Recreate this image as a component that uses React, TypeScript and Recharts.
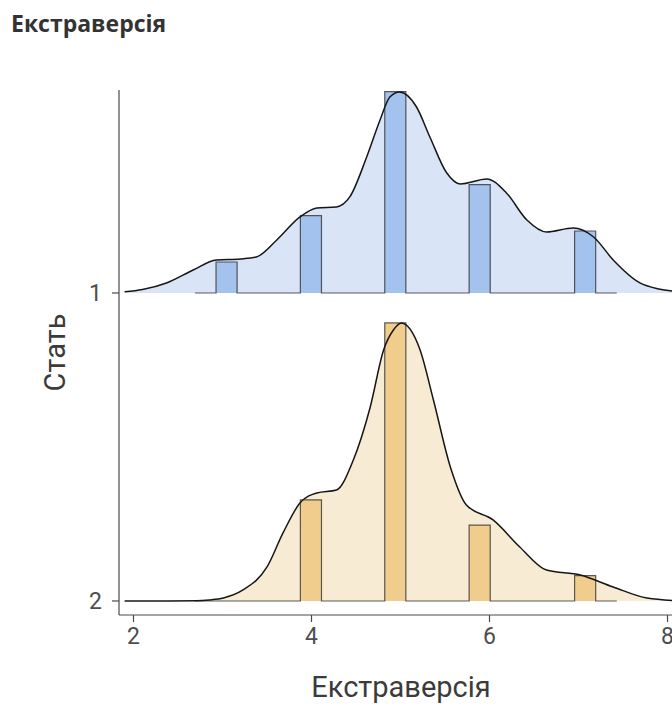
import React from 'react';
import { ComposedChart, Area, Line, XAxis, YAxis, Label } from 'recharts';

// Ridge groups, top to bottom
const groupNames = ['1', '2'];

// Smoothed density curves (x value, density)
const curveX1 = [1.9, 2.1, 2.37, 2.67, 2.93, 3.2, 3.38, 3.61, 3.87, 4.06, 4.28, 4.43, 4.62, 4.77, 4.88, 4.99, 5.18, 5.33, 5.52, 5.67, 5.97, 6.19, 6.42, 6.64, 6.94, 7.17, 7.39, 7.69, 7.9, 8.17];
const curveY1 = [0.01, 0.03, 0.088, 0.202, 0.29, 0.299, 0.316, 0.466, 0.668, 0.747, 0.756, 0.844, 1.195, 1.52, 1.722, 1.766, 1.634, 1.371, 1.054, 0.958, 1.002, 0.879, 0.641, 0.536, 0.571, 0.492, 0.29, 0.088, 0.035, 0.01];

const curveX2 = [1.9, 2.4, 2.71, 2.85, 3.01, 3.23, 3.5, 3.68, 3.87, 4.06, 4.28, 4.47, 4.66, 4.81, 4.92, 5.01, 5.22, 5.37, 5.56, 5.74, 6.04, 6.34, 6.64, 7.02, 7.39, 7.77, 8.17];
const curveY2 = [0, 0, 0.002, 0.009, 0.026, 0.097, 0.299, 0.598, 0.861, 0.949, 0.975, 1.239, 1.705, 2.206, 2.381, 2.443, 2.206, 1.766, 1.178, 0.844, 0.712, 0.475, 0.272, 0.228, 0.123, 0.026, 0];

// Histogram: occupied bins and their counts per group
const histRange = [2.69, 7.43];
const binWidth = 0.237;
const binLefts = [2.927, 3.875, 4.823, 5.771, 6.956];
const counts1 = [2, 5, 13, 7, 4];
const counts2 = [0, 4, 11, 3, 1];

const xTicks = [2, 4, 6, 8];

const fills = [
  { light: '#d9e5f7', bar: '#a3c2ee' },
  { light: '#f8ebd4', bar: '#f0cd8d' },
];

// vertical size of one density unit, in ridge spacings
const RIDGE_SCALE = 0.3695;

const toCurve = (xs: number[], ys: number[]) => xs.map((x, i) => ({ x, d: ys[i] }));

const toSteps = (counts: number[]) => {
  const n = counts.reduce((a, b) => a + b, 0);
  const pts = [{ x: histRange[0], d: 0 }];
  binLefts.forEach((left, i) => {
    pts.push({ x: left, d: counts[i] / (n * binWidth) });
    pts.push({ x: left + binWidth, d: 0 });
  });
  pts.push({ x: histRange[1], d: 0 });
  return pts;
};

const ridges = [
  { curve: toCurve(curveX1, curveY1), hist: toSteps(counts1) },
  { curve: toCurve(curveX2, curveY2), hist: toSteps(counts2) },
];

const axisColor = '#4a4a4a';
const font = 'Roboto, "Liberation Sans", Arial, sans-serif';

const YTitle = (props: any) => {
  const { x, y, height } = props.viewBox;
  const cx = x + 55;
  const cy = y + height / 2;
  return (
    <text x={cx} y={cy} transform={`rotate(-90 ${cx} ${cy})`} textAnchor="middle" dominantBaseline="central"
      fontFamily={font} fontSize={29} fill="#3b3b3b">Стать</text>
  );
};

const XTitle = (props: any) => {
  const { x, y, width } = props.viewBox;
  return (
    <text x={x + width / 2} y={y + 82} textAnchor="middle" fontFamily={font} fontSize={29} fill="#3b3b3b">
      Екстраверсія
    </text>
  );
};

export default function App() {
  const last = groupNames.length - 1;
  return (
    <div style={{ position: 'absolute', left: 0, top: 0, width: 672, height: 705, overflow: 'hidden', background: '#fff' }}>
      <div style={{ position: 'absolute', left: 11, top: 7, fontFamily: '"Open Sans", sans-serif', fontWeight: 700, fontSize: 23, color: '#333' }}>
        Екстраверсія
      </div>
      <div style={{ position: 'absolute', left: 0, top: 0 }}>
        <ComposedChart width={720} height={705} margin={{ top: 90, right: 37, bottom: 0, left: 0 }}>
          <XAxis
            type="number"
            dataKey="x"
            domain={[1.837, 8.174]}
            ticks={xTicks}
            allowDataOverflow
            height={90}
            tickSize={7}
            tickMargin={6}
            stroke={axisColor}
            strokeWidth={1.2}
            tick={{ fill: '#4d4d4d', fontSize: 23, fontFamily: font }}
          >
            <Label content={XTitle} />
          </XAxis>
          <YAxis
            type="number"
            domain={[-0.0455, 1.659]}
            ticks={groupNames.map((_, i) => last - i)}
            tickFormatter={(v: number) => groupNames[last - v]}
            allowDataOverflow
            width={119}
            tickSize={7}
            tickMargin={10}
            stroke={axisColor}
            strokeWidth={1.2}
            tick={{ fill: '#4d4d4d', fontSize: 23, fontFamily: font }}
          >
            <Label content={YTitle} />
          </YAxis>
          {ridges.map((r, i) => {
            const base = last - i;
            const y = (p: any) => base + p.d * RIDGE_SCALE;
            return [
              <Area key={`fill${i}`} data={r.curve} dataKey={y} baseValue={base} type="monotone"
                stroke="none" fill={fills[i].light} fillOpacity={1} isAnimationActive={false} />,
              <Area key={`hist${i}`} data={r.hist} dataKey={y} baseValue={base} type="stepAfter"
                stroke="#333" strokeOpacity={0.8} strokeWidth={1.2} fill={fills[i].bar} fillOpacity={1} isAnimationActive={false} />,
              <Line key={`line${i}`} data={r.curve} dataKey={y} type="monotone" stroke="#161616"
                strokeWidth={1.5} dot={false} activeDot={false} isAnimationActive={false} />,
            ];
          })}
        </ComposedChart>
      </div>
    </div>
  );
}
